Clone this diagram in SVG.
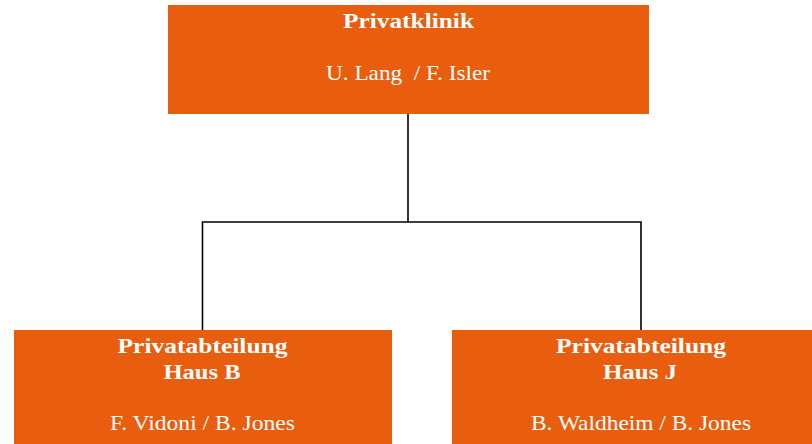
<svg xmlns="http://www.w3.org/2000/svg" width="812" height="444" viewBox="0 0 812 444">
<style>
.box{fill:#E85E0E}
.t{font-family:"Liberation Serif","Times New Roman",serif;font-size:21px;fill:#ffffff;text-anchor:middle;white-space:pre}
.b{font-weight:bold}
.c{fill:none;stroke:#000000;stroke-width:1.6}
</style>
<rect width="812" height="444" fill="#ffffff"/>
<g id="connectors">
<path class="c" d="M408,114 V222 M202.5,330 V222 H641 V330"/>
</g>
<g id="privatklinik">
<rect class="box" x="168" y="5" width="481" height="109"/>
<text class="t b" x="408.5" y="28" textLength="131" lengthAdjust="spacingAndGlyphs">Privatklinik</text>
<text class="t" x="408" y="80" textLength="164" lengthAdjust="spacingAndGlyphs" xml:space="preserve">U. Lang  / F. Isler</text>
</g>
<g id="haus-b">
<rect class="box" x="14" y="330" width="378" height="114"/>
<text class="t b" x="202.5" y="353" textLength="170" lengthAdjust="spacingAndGlyphs">Privatabteilung</text>
<text class="t b" x="202" y="379" textLength="77" lengthAdjust="spacingAndGlyphs">Haus B</text>
<text class="t" x="202.5" y="430" textLength="185" lengthAdjust="spacingAndGlyphs">F. Vidoni / B. Jones</text>
</g>
<g id="haus-j">
<rect class="box" x="452" y="330" width="360" height="114"/>
<text class="t b" x="641" y="353" textLength="170" lengthAdjust="spacingAndGlyphs">Privatabteilung</text>
<text class="t b" x="640" y="379" textLength="74" lengthAdjust="spacingAndGlyphs">Haus J</text>
<text class="t" x="641" y="430" textLength="220" lengthAdjust="spacingAndGlyphs">B. Waldheim / B. Jones</text>
</g>
</svg>
